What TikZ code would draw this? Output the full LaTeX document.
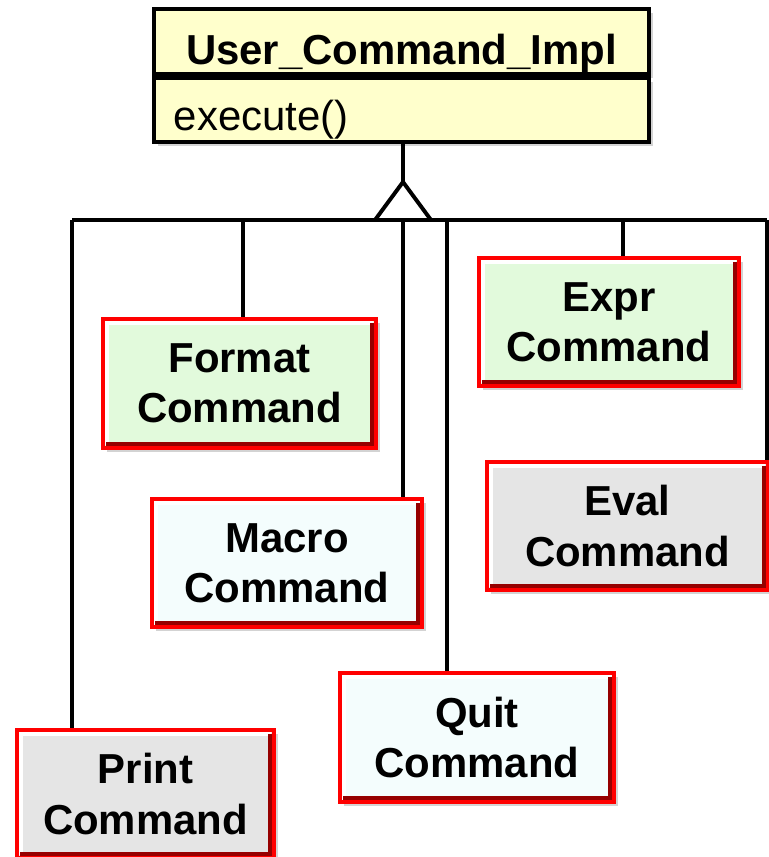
\documentclass[tikz,border=0pt]{standalone}
\usepackage{fontspec}
\setmainfont{Liberation Sans}
\usetikzlibrary{shadows,calc,backgrounds}

\definecolor{classyellow}{RGB}{255,255,204}
\definecolor{cmdgreen}{RGB}{226,250,220}
\definecolor{cmdgray}{RGB}{229,229,229}
\definecolor{cmdcyan}{RGB}{244,253,253}
\definecolor{bevelred}{RGB}{150,0,0}
\newcommand{\diafont}{\fontsize{29.8}{35.6}\selectfont}

\begin{document}
\begin{tikzpicture}[x=0.025cm,y=-0.025cm,line width=2.8pt,tree/.style={draw=black,line width=2.8pt}]
\useasboundingbox (0,0) rectangle (769,857);

% base class
\begin{scope}[every node/.style={draw,fill=classyellow,drop shadow={opacity=0.35},minimum width=12.375cm,inner sep=0pt,anchor=north}]
  \node[font=\diafont\bfseries,text height=1.4cm,text depth=0.225cm] (impl) at (401.5,7) {User\_Command\_Impl};
  \node[font=\diafont,text height=1.325cm,text depth=0.275cm,text width=11.375cm,inner xsep=0.5cm,align=left] (ops) at (impl.south) {execute()};
\end{scope}

% subclasses
\begin{scope}[every node/.style={draw=red,line width=2.6pt,drop shadow={opacity=0.35},align=center,inner sep=0pt,font=\diafont\bfseries,
    path picture={
      \draw[white,line width=3pt] ([shift={(2.5pt,2.5pt)}]path picture bounding box.south west) |- ([shift={(-2.5pt,-2.5pt)}]path picture bounding box.north east);
      \draw[bevelred,line width=3pt] ([shift={(2.5pt,2.5pt)}]path picture bounding box.south west) -| ([shift={(-2.5pt,-2.5pt)}]path picture bounding box.north east);
    }}]
  \node[fill=cmdgreen,minimum width=6.825cm,minimum height=3.225cm] (fmt) at (239.5,383.5) {Format\\Command};
  \node[fill=cmdgreen,minimum width=6.5cm,minimum height=3.2cm] (expr) at (609,322) {Expr\\Command};
  \node[fill=cmdgray,minimum width=7.025cm,minimum height=3.2cm] (eval) at (627.5,526) {Eval\\Command};
  \node[fill=cmdcyan,minimum width=6.75cm,minimum height=3.2cm] (macro) at (287,563) {Macro\\Command};
  \node[fill=cmdcyan,minimum width=6.85cm,minimum height=3.225cm] (quit) at (477,737.5) {Quit\\Command};
  \node[fill=cmdgray,minimum width=6.425cm,minimum height=3.2cm] (print) at (145.5,794) {Print\\Command};
\end{scope}

% inheritance tree
\coordinate (hub) at (403,220);
\coordinate (apex) at (403,182);
\coordinate (barL) at (72,220);
\coordinate (barR) at (767,220);
\begin{scope}[on background layer]
  \draw[tree] (barL) -- (barR);
  \foreach \x/\n in {72/print,243/fmt,403/macro,447/quit,623/expr,767/eval}{
    \coordinate (drop) at (\x,220);
    \draw[tree] (drop) -- (drop |- \n.north);
  }
\end{scope}
\draw[tree] (ops.south -| apex) -- (apex);
\draw[tree,fill=white,line join=miter] ($(hub)+(-28,0)$) -- (apex) -- ($(hub)+(28,0)$) -- cycle;
\end{tikzpicture}
\end{document}
